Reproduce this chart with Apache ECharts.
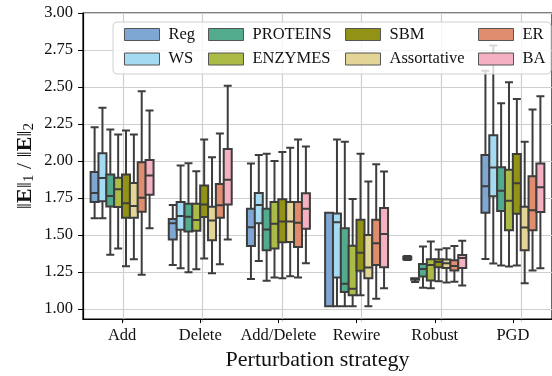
<!DOCTYPE html>
<html>
<head>
<meta charset="utf-8">
<script src="https://cdn.jsdelivr.net/npm/echarts@6/dist/echarts.min.js"></script>
<style>html,body{margin:0;padding:0;background:#fff}#c{width:552px;height:376px}</style>
</head>
<body>
<div id="c"></div>
<script>
// Categories (perturbation strategies)
const categories = ['Add', 'Delete', 'Add/Delete', 'Rewire', 'Robust', 'PGD'];
// Series names
const seriesNames = ['Reg', 'WS', 'PROTEINS', 'ENZYMES', 'SBM', 'Assortative', 'ER', 'BA'];
// Y tick labels
const yTicks = [1.00, 1.25, 1.50, 1.75, 2.00, 2.25, 2.50, 2.75, 3.00];

// Box data per series: [min, Q1, median, Q3, max] for each category
const reg = [
  [1.600, 1.711, 1.772, 1.916, 2.220],
  [1.281, 1.455, 1.565, 1.595, 1.691],
  [1.185, 1.410, 1.538, 1.664, 1.973],
  [1.000, 1.000, 1.000, 1.637, 1.637],
  [1.315, 1.320, 1.330, 1.338, 1.342],
  [1.322, 1.637, 1.818, 2.031, 2.606]
];
const ws = [
  [1.600, 1.716, 1.874, 2.043, 2.353],
  [1.259, 1.522, 1.615, 1.711, 1.959],
  [1.308, 1.565, 1.691, 1.772, 2.031],
  [1.000, 1.196, 1.572, 1.633, 2.137],
  [1.165, 1.180, 1.185, 1.190, 1.190],
  [1.292, 1.750, 1.946, 2.166, 2.779]
];
const proteins = [
  [1.351, 1.680, 1.752, 1.899, 2.205],
  [1.232, 1.509, 1.610, 1.698, 1.975],
  [1.173, 1.382, 1.524, 1.664, 2.040],
  [1.000, 1.097, 1.153, 1.531, 2.122],
  [1.126, 1.203, 1.254, 1.288, 1.407],
  [1.277, 1.649, 1.788, 1.948, 2.385]
];
const enzymes = [
  [1.394, 1.676, 1.797, 1.876, 2.171],
  [1.252, 1.515, 1.588, 1.698, 1.921],
  [1.196, 1.394, 1.563, 1.711, 1.991],
  [1.000, 1.074, 1.119, 1.412, 1.732],
  [1.122, 1.176, 1.281, 1.320, 1.441],
  [1.270, 1.518, 1.720, 1.930, 2.527]
];
const sbm = [
  [1.272, 1.603, 1.703, 1.899, 2.198],
  [1.326, 1.608, 1.693, 1.824, 2.137],
  [1.191, 1.436, 1.578, 1.730, 2.051],
  [1.074, 1.241, 1.365, 1.590, 2.040],
  [1.171, 1.266, 1.302, 1.320, 1.387],
  [1.277, 1.630, 1.838, 2.038, 2.414]
];
const assortative = [
  [1.320, 1.603, 1.684, 1.840, 2.171],
  [1.225, 1.450, 1.585, 1.678, 2.016],
  [1.205, 1.438, 1.578, 1.711, 2.081],
  [1.000, 1.191, 1.264, 1.486, 1.851],
  [1.162, 1.261, 1.293, 1.318, 1.396],
  [1.157, 1.382, 1.536, 1.678, 2.122]
];
const er = [
  [1.214, 1.644, 1.739, 1.982, 2.466],
  [1.286, 1.603, 1.689, 1.833, 2.178],
  [1.196, 1.403, 1.570, 1.711, 2.137],
  [1.051, 1.281, 1.430, 1.590, 1.968],
  [1.166, 1.243, 1.274, 1.313, 1.410],
  [1.243, 1.518, 1.655, 1.887, 2.342]
];
const ba = [
  [1.531, 1.761, 1.892, 1.997, 2.335],
  [1.455, 1.693, 1.862, 2.072, 2.504],
  [1.293, 1.529, 1.664, 1.770, 2.090],
  [1.122, 1.266, 1.493, 1.669, 1.919],
  [1.142, 1.261, 1.329, 1.349, 1.446],
  [1.259, 1.642, 1.811, 1.973, 2.432]
];

const seriesData = [reg, ws, proteins, enzymes, sbm, assortative, er, ba];
const colors = ['#7fa7d3', '#a5dbf2', '#52ab8c', '#abbb45', '#929216', '#e3d595', '#e08c6f', '#f5b0c1'];

const FONT = "'Liberation Serif', 'Times New Roman', serif";
const chart = echarts.init(document.getElementById('c'), null, {renderer: 'canvas'});

const gridLeft = 83, gridTop = 13, gridW = 477.6;
const bandW = gridW / categories.length;
const gridA_H = 309;            // 3.00 -> 0.912
const gridB_H = 296;            // 3.00 -> 1.00

const series = seriesNames.map((name, i) => ({
  name: name,
  type: 'boxplot',
  xAxisIndex: 0,
  yAxisIndex: 0,
  boxWidth: [8, 8],
  data: seriesData[i],
  itemStyle: {color: colors[i], borderColor: '#3d3d3d', borderWidth: 2},
  emphasis: {disabled: true},
  z: 3
}));

const colorOf = (n) => colors[seriesNames.indexOf(n)];
const legendCols = [
  {left: 119, data: ['Reg', 'WS']},
  {left: 203, data: ['PROTEINS', 'ENZYMES']},
  {left: 340, data: ['SBM', 'Assortative']},
  {left: 473, data: ['ER', 'BA']}
];

const option = {
  animation: false,
  color: colors,
  grid: [
    {left: gridLeft, top: gridTop, width: gridW, height: gridA_H, show: true,
     borderColor: '#000', borderWidth: 1.2, backgroundColor: 'transparent', containLabel: false},
    {left: gridLeft, top: gridTop, width: gridW, height: gridB_H, show: false, containLabel: false},
    {left: gridLeft + bandW / 2, top: gridTop, width: bandW * (categories.length - 1), height: gridA_H,
     show: false, containLabel: false}
  ],
  xAxis: [
    {type: 'category', gridIndex: 0, data: categories,
     axisLine: {show: true, lineStyle: {color: '#000', width: 1.2}},
     axisTick: {show: true, alignWithLabel: true, interval: 0, length: 4, lineStyle: {color: '#000', width: 1}},
     axisLabel: {fontFamily: FONT, fontSize: 16.5, color: '#111', margin: 8, interval: 0},
     splitLine: {show: false},
     name: 'Perturbation strategy', nameLocation: 'middle', nameGap: 28,
     nameTextStyle: {fontFamily: FONT, fontSize: 22, color: '#111'}},
    {type: 'value', gridIndex: 1, show: false, min: 0, max: 1},
    {type: 'category', gridIndex: 2, data: categories, boundaryGap: false,
     axisLine: {show: false}, axisTick: {show: false}, axisLabel: {show: false},
     splitLine: {show: true, interval: 0, lineStyle: {color: '#cfcfcf', width: 1.2}}}
  ],
  yAxis: [
    {type: 'value', gridIndex: 0, min: 0.912, max: 3.0,
     axisLine: {show: true, lineStyle: {color: '#000', width: 1.2}},
     axisTick: {show: false}, axisLabel: {show: false}, splitLine: {show: false},
     name: '{n|‖}{b|E}{n|‖}{s|1}{n| / ‖}{b|E}{n|‖}{s|2}',
     nameLocation: 'middle', nameRotate: 90, nameGap: 46,
     nameTextStyle: {
       fontFamily: FONT, fontSize: 22, color: '#111',
       rich: {
         n: {fontFamily: FONT, fontSize: 22, color: '#111', lineHeight: 24},
         b: {fontFamily: FONT, fontSize: 22, fontWeight: 'bold', color: '#111', lineHeight: 24},
         s: {fontFamily: FONT, fontSize: 15, color: '#111', lineHeight: 6, verticalAlign: 'bottom'}
       }
     }},
    {type: 'value', gridIndex: 1, min: 1.0, max: 3.0, interval: 0.25,
     axisLine: {show: false},
     axisTick: {show: true, length: 5, lineStyle: {color: '#000', width: 1}},
     axisLabel: {fontFamily: FONT, fontSize: 16.5, color: '#111', margin: 10,
                 formatter: (v) => {
                   const t = yTicks.find(x => Math.abs(x - v) < 1e-6);
                   return t === undefined ? '' : t.toFixed(2);
                 }},
     splitLine: {show: true, lineStyle: {color: '#cfcfcf', width: 1.2}}},
    {type: 'value', gridIndex: 2, show: false, min: 0, max: 1}
  ],
  legend: legendCols.map((c) => ({
    left: c.left, top: 21, orient: 'vertical',
    data: c.data.map(n => ({name: n, icon: 'rect',
      itemStyle: {color: colorOf(n), borderColor: '#555', borderWidth: 1}})),
    itemWidth: 35, itemHeight: 12, itemGap: 7.5,
    textStyle: {fontFamily: FONT, fontSize: 16.5, color: '#111', lineHeight: 16, padding: [0, 0, 0, 4]},
    selectedMode: false, z: 20
  })),
  graphic: [{
    type: 'rect', z: 15, silent: true,
    shape: {x: 113, y: 22, width: 438, height: 52, r: 4},
    style: {fill: 'rgba(255,255,255,0.8)', stroke: '#d0d0d0', lineWidth: 1}
  }],
  series: series
};

chart.setOption(option);
</script>
</body>
</html>
